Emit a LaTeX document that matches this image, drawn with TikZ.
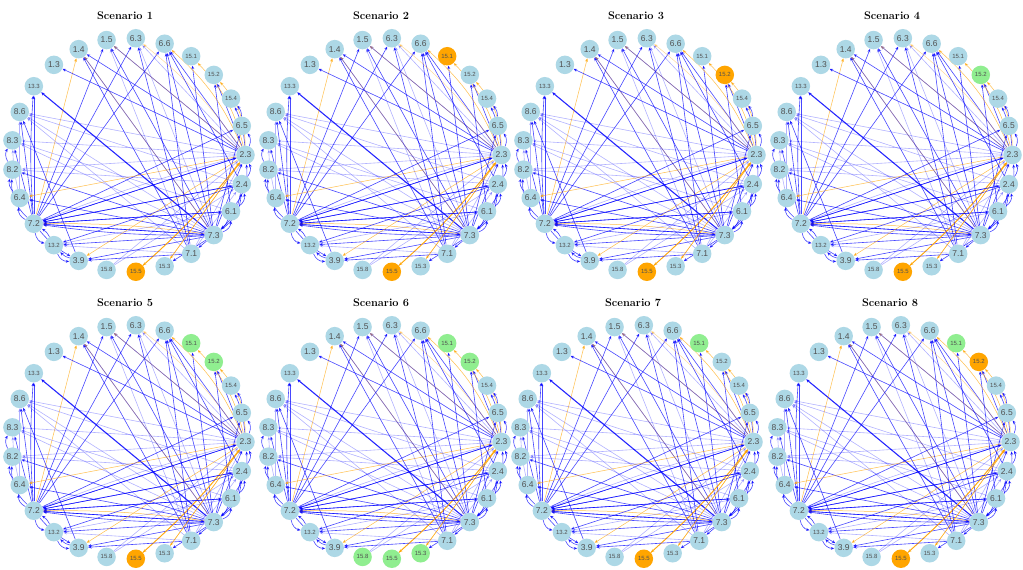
\documentclass[tikz,border=0pt]{standalone}
\usepackage{fontspec}
\newfontfamily\labfont{Liberation Sans}
\usetikzlibrary{arrows.meta,backgrounds}
\definecolor{nblue}{HTML}{ADD8E6}
\definecolor{norange}{HTML}{FFA500}
\definecolor{ngreen}{HTML}{90EE90}
\definecolor{ntext}{HTML}{505050}
\definecolor{eblue}{HTML}{0000FF}
\newcommand\setnc[3]{\expandafter\def\csname ncx#1x#2\endcsname{#3}}
\setnc{1}{19}{norange}
\setnc{2}{4}{norange}\setnc{2}{19}{norange}
\setnc{3}{3}{norange}\setnc{3}{19}{norange}
\setnc{4}{3}{ngreen}\setnc{4}{19}{norange}
\setnc{5}{4}{ngreen}\setnc{5}{3}{ngreen}\setnc{5}{19}{norange}
\setnc{6}{4}{ngreen}\setnc{6}{3}{ngreen}\setnc{6}{18}{ngreen}\setnc{6}{19}{ngreen}\setnc{6}{20}{ngreen}
\setnc{7}{4}{ngreen}\setnc{7}{19}{norange}
\setnc{8}{4}{ngreen}\setnc{8}{3}{norange}\setnc{8}{19}{norange}
\def\nodelist{0/2.3/big,1/6.5/big,2/15.4/small,3/15.2/small,4/15.1/small,5/6.6/big,6/6.3/big,7/1.5/big,8/1.4/big,9/1.3/big,10/13.3/small,11/8.6/big,12/8.3/big,13/8.2/big,14/6.4/big,15/7.2/big,16/13.2/small,17/3.9/big,18/15.8/small,19/15.5/small,20/15.3/small,21/7.1/big,22/7.3/big,23/6.1/big,24/2.4/big}
\def\edgelist{22/10/eT/0,22/8/eB/0,22/7/eB/0,22/6/eL/0,22/5/eB/0,22/4/eB/0,22/11/eL/0,22/12/eL/0,22/13/eB/0,22/14/eB/0,22/15/eB/0,22/15/eB/4,22/16/eB/0,22/17/eB/0,22/0/eB/0,22/1/eB/0,22/24/eB/-25,22/23/eB/-35,22/21/eB/0,22/20/eB/0,22/15/eO/-4,22/8/eOL/0,15/7/eB/0,15/6/eB/0,15/5/eB/0,15/1/eB/0,15/0/eB/0,15/0/eL/3,15/24/eB/0,15/23/eB/0,15/10/eB/0,15/10/eB/4,15/11/eB/0,15/12/eB/0,15/13/eB/25,15/14/eB/35,15/16/eB/-35,15/17/eB/-10,15/22/eB/0,15/8/eO/0,16/17/eB/-35,16/15/eB/-15,17/16/eB/15,17/11/eB/0,14/13/eB/30,13/12/eB/30,14/12/eL/5,14/11/eL/0,0/9/eB/0,0/8/eB/0,0/7/eB/0,0/6/eL/0,0/5/eB/0,0/3/eB/0,0/2/eB/-10,0/1/eB/-30,0/15/eB/0,0/14/eO/0,0/11/eL/0,0/12/eL/0,0/13/eL/0,0/17/eO/0,0/19/eO/5,19/0/eOT/-5,0/20/eO/0,0/4/eO/-15,0/3/eO/-20,0/5/eO/-12,0/6/eOL/-8,0/7/eOL/0,1/2/eB/-20,24/0/eB/-30,24/15/eB/0,24/22/eB/20,24/5/eB/0,24/16/eB/0,24/11/eL/0,24/13/eL/0,23/0/eB/-20,23/24/eB/-35,23/15/eB/0,23/22/eB/15,23/12/eL/0,23/3/eB/0,21/8/eB/0,21/7/eL/0,21/6/eB/0,21/5/eB/0,21/17/eB/0,21/0/eL/0,21/24/eL/0,21/11/eL/0,21/16/eL/0,18/0/eL/0,18/24/eL/0,20/0/eO/0,16/23/eL/0}
\tikzset{
  netnode/.style={circle,minimum size=18.5pt,inner sep=0pt,text=ntext},
  big/.style={font=\labfont\fontsize{8.5}{8.5}\selectfont},
  small/.style={font=\labfont\fontsize{6}{6}\selectfont},
  tip/.style={-{Stealth[length=3.6pt,width=3pt]}},
  eB/.style={tip,draw=eblue,opacity=0.72,line width=0.6pt},
  eL/.style={tip,draw=eblue,opacity=0.3,line width=0.6pt},
  eT/.style={tip,draw=eblue,opacity=0.85,line width=1.1pt},
  eO/.style={tip,draw=norange,opacity=0.7,line width=0.5pt},
  eOL/.style={tip,draw=norange,opacity=0.4,line width=0.5pt},
  eOT/.style={tip,draw=norange,opacity=0.85,line width=0.9pt},
  ptitle/.style={font=\bfseries\fontsize{11}{11}\selectfont,text=black}
}
\begin{document}
\begin{tikzpicture}[x=1pt,y=1pt]
\useasboundingbox (0,0) rectangle (1023,570);
\begin{pgfonlayer}{background}
\fill[white] (0,0) rectangle (1023,570);
\end{pgfonlayer}
\foreach \p/\ox/\oy in {1/0/0,2/256/0,3/511/0,4/767/0,5/0/287,6/256/287,7/508/287,8/765/287}{
  \node[ptitle] (t\p) at ({\ox+125},{570-\oy-16}) {Scenario \p};
  \foreach \i/\lb/\sz in \nodelist{
    \ifcsname ncx\p x\i\endcsname
      \edef\thiscol{\csname ncx\p x\i\endcsname}%
    \else
      \def\thiscol{nblue}%
    \fi
    \node[netnode,\sz,fill=\thiscol] (s\p n\i) at ({\ox+128.5+117*cos(14.4*\i)},{415-\oy+117*sin(14.4*\i)}) {\lb};
  }
  \begin{pgfonlayer}{background}
  \foreach \a/\b/\s/\bd in \edgelist{
    \draw[\s] (s\p n\a) to[bend left=\bd] (s\p n\b);
  }
  \end{pgfonlayer}
}
\end{tikzpicture}
\end{document}
